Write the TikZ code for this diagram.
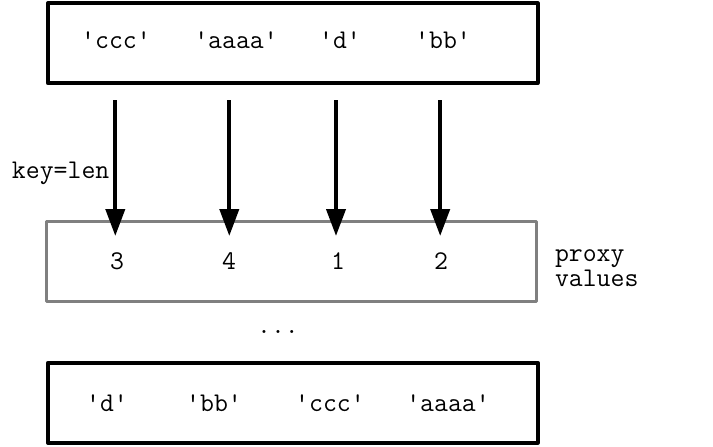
\documentclass[tikz,border=0pt]{standalone}
\usetikzlibrary{arrows.meta}
\begin{document}
\begin{tikzpicture}[x=1pt,y=-1pt,
  every node/.style={inner sep=0pt, outer sep=0pt},
  lbl/.style={font=\fontsize{27}{25}\selectfont\ttfamily, anchor=base},
  blackbox/.style={draw=black, line width=4pt, line join=round, minimum width=#1, minimum height=80pt},
  graybox/.style={draw=gray, line width=3pt, line join=round, minimum width=#1, minimum height=80pt},
  maparrow/.style={line width=4pt, -{Triangle[width=19pt,length=27pt]}}
]
\useasboundingbox (0,0) rectangle (713,447);

% input list, proxy keys and sorted result
\node[blackbox=489.5pt] (top) at (292.75,43.15) {};
\node[graybox=490.4pt]  (mid) at (291.5,261.85) {};
\node[blackbox=489.8pt] (bot) at (292.9,402.8) {};

% original values
\node[lbl] (t1) at (116,48) {'ccc'};
\node[lbl] (t2) at (236,48) {'aaaa'};
\node[lbl] (t3) at (340,48) {'d'};
\node[lbl] (t4) at (443,48) {'bb'};

% proxy values computed by len
\node[lbl] (p1) at (117,269) {3};
\node[lbl] (p2) at (229,269) {4};
\node[lbl] (p3) at (338,269) {1};
\node[lbl] (p4) at (441,269) {2};

% sorted values
\node[lbl] (b1) at (107,411) {'d'};
\node[lbl] (b2) at (214,411) {'bb'};
\node[lbl] (b3) at (330,411) {'ccc'};
\node[lbl] (b4) at (448,411) {'aaaa'};

\node[lbl, anchor=base west] (key) at (12,178) {key=len};
\node[lbl, anchor=base west, align=left] (proxy) at (555,286) {proxy\\values};
\node[lbl] (dots) at (278,333) {...};

% arrows from each value to its key
\coordinate (s1) at (115.3,100); \coordinate (e1) at (115.3,236);
\coordinate (s2) at (229.3,100); \coordinate (e2) at (229.3,236);
\coordinate (s3) at (336,100);   \coordinate (e3) at (336,236);
\coordinate (s4) at (440.2,100); \coordinate (e4) at (440.2,236);
\draw[maparrow] (s1) -- (e1);
\draw[maparrow] (s2) -- (e2);
\draw[maparrow] (s3) -- (e3);
\draw[maparrow] (s4) -- (e4);
\end{tikzpicture}
\end{document}
